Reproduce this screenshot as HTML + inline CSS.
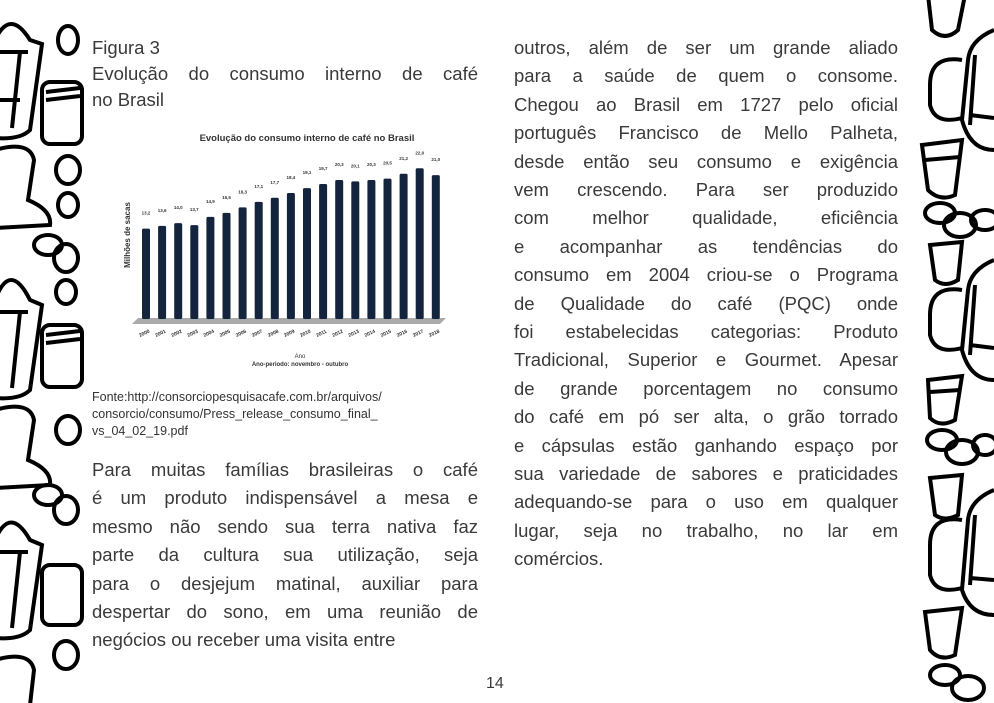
<!DOCTYPE html>
<html><head><meta charset="utf-8"><style>
html,body{margin:0;padding:0;background:#fff}
body{width:994px;height:703px;position:relative;overflow:hidden;font-family:"Liberation Sans",sans-serif;color:#3a3a3a}
.l{position:absolute;font-size:18.5px;white-space:nowrap;line-height:22px}
.j{text-align:justify;text-align-last:justify;white-space:normal}
.f{position:absolute;font-size:12.5px;line-height:16px;left:92px;color:#333}
</style></head><body>
<svg width="994" height="703" style="position:absolute;left:0;top:0" fill="none" stroke="#000" stroke-width="4">
<g>
<path d="M-5,40 Q10,8 30,40 L42,44 L30,130 Q20,140 -5,138"/>
<path d="M0,52 L28,52 M-5,100 L20,100 M20,52 L12,128"/>
<rect x="42" y="82" width="40" height="62" rx="8"/>
<path d="M46,92 L80,88 M46,100 L80,96"/>
<ellipse cx="68" cy="40" rx="10" ry="14"/>
<ellipse cx="68" cy="170" rx="12" ry="14"/>
<ellipse cx="68" cy="205" rx="10" ry="12"/>
<path d="M-5,150 Q30,140 34,160 L28,200 Q52,210 50,225 L-5,228"/>
<ellipse cx="48" cy="245" rx="14" ry="10"/>
<ellipse cx="66" cy="258" rx="12" ry="14"/>
<ellipse cx="66" cy="292" rx="10" ry="12"/>
<path d="M-5,300 Q10,260 30,300 L42,305 L30,390 Q20,400 -5,398"/>
<path d="M0,312 L28,312 M20,312 L12,388"/>
<rect x="42" y="325" width="40" height="62" rx="8"/>
<path d="M46,335 L80,331 M46,343 L80,339"/>
<ellipse cx="68" cy="430" rx="12" ry="14"/>
<path d="M-5,410 Q30,400 34,420 L28,460 Q52,470 50,485 L-5,488"/>
<ellipse cx="48" cy="495" rx="14" ry="10"/>
<ellipse cx="66" cy="510" rx="12" ry="14"/>
<path d="M-5,540 Q10,505 30,540 L42,545 L30,630 Q20,640 -5,638"/>
<path d="M0,552 L28,552 M20,552 L12,628"/>
<rect x="42" y="565" width="40" height="60" rx="8"/>
<ellipse cx="66" cy="655" rx="12" ry="14"/>
<path d="M-5,660 Q30,650 34,670 L30,705"/>
</g>
<g>
<path d="M928,-5 L932,30 Q945,42 958,30 L965,-5"/>
<path d="M994,30 Q970,40 968,60 L962,120 Q970,150 994,150"/>
<path d="M975,55 L970,125 M970,115 L994,118"/>
<path d="M962,60 Q930,55 930,85 L930,105 Q935,125 962,118"/>
<path d="M922,145 L962,140 L955,195 Q940,202 928,190 Z"/>
<path d="M925,160 L960,157"/>
<ellipse cx="940" cy="213" rx="15" ry="10"/>
<ellipse cx="960" cy="225" rx="16" ry="12"/>
<ellipse cx="985" cy="220" rx="14" ry="10"/>
<path d="M930,245 L962,242 L958,280 Q945,288 935,280 Z"/>
<path d="M994,260 Q970,270 968,290 L962,350 Q970,380 994,380"/>
<path d="M975,285 L970,355 M970,345 L994,348"/>
<path d="M962,290 Q930,285 930,315 L930,335 Q935,355 962,348"/>
<path d="M928,380 L962,376 L955,420 Q940,428 930,418 Z"/>
<path d="M930,392 L960,390"/>
<ellipse cx="942" cy="440" rx="15" ry="10"/>
<ellipse cx="962" cy="452" rx="16" ry="12"/>
<ellipse cx="985" cy="445" rx="12" ry="10"/>
<path d="M930,478 L962,475 L958,515 Q945,522 935,515 Z"/>
<path d="M994,490 Q970,500 968,520 L962,590 Q970,615 994,615"/>
<path d="M975,515 L970,585 M970,578 L994,580"/>
<path d="M962,520 Q930,515 930,545 L930,575 Q935,595 962,588"/>
<path d="M925,612 L962,608 L955,655 Q940,662 930,650 Z"/>
<ellipse cx="945" cy="675" rx="15" ry="10"/>
<ellipse cx="968" cy="688" rx="16" ry="12"/>
</g>
</svg>

<div class="l" style="left:92px;top:37px">Figura 3</div>
<div class="l j" style="left:92px;top:63px;width:386px">Evolução do consumo interno de café</div>
<div class="l" style="left:92px;top:89px">no Brasil</div>

<svg width="340" height="250" style="position:absolute;left:110px;top:120px" font-family="Liberation Sans,sans-serif">
<text x="197" y="21" font-size="9.5" font-weight="bold" text-anchor="middle" fill="#333">Evolução do consumo interno de café no Brasil</text>
<polygon points="28,198 336,198 330,204 22,204" fill="#aaa"/>
<text x="20" y="115" font-size="8" font-weight="bold" fill="#333" transform="rotate(-90 20 115)" text-anchor="middle">Milhões de sacas</text>
<g id="bars"></g>
<text x="190" y="238" font-size="6" text-anchor="middle" fill="#333">Ano</text>
<text x="190" y="246" font-size="6" font-weight="bold" text-anchor="middle" fill="#333">Ano-periodo: novembro - outubro</text>
</svg>
<script>
var v=[13.2,13.6,14.0,13.7,14.9,15.5,16.3,17.1,17.7,18.4,19.1,19.7,20.3,20.1,20.3,20.5,21.2,22.0,21.0];
var g=document.getElementById('bars'),h='';
v.forEach(function(x,i){var cx=36+i*16.1,hh=x*6.85,y=199-hh;
h+='<rect x="'+(cx-4)+'" y="'+y+'" width="8" height="'+hh+'" fill="#14243d" rx="1.5"/>';
h+='<text x="'+cx+'" y="'+(y-14)+'" font-size="4.5" font-weight="bold" text-anchor="middle" fill="#333">'+x.toFixed(1).replace('.',',')+'</text>';
h+='<text x="'+(cx-6)+'" y="'+217+'" font-size="5" font-weight="bold" fill="#333" transform="rotate(-25 '+(cx-6)+' 217)">'+(2000+i)+'</text>';});
g.innerHTML=h;
</script>

<div class="f" style="top:389px">Fonte:http://consorciopesquisacafe.com.br/arquivos/</div>
<div class="f" style="top:406px">consorcio/consumo/Press_release_consumo_final_</div>
<div class="f" style="top:423px">vs_04_02_19.pdf</div>

<div id="left"></div>
<div id="right"></div>
<div class="l" style="left:486px;top:673px;font-size:16px">14</div>
<script>
function put(id,x,y0,w,lines,last){var s='';lines.forEach(function(t,i){var j=(i<lines.length-1||!last)?' j':'';s+='<div class="l'+j+'" style="left:'+x+'px;top:'+(y0+i*28.4)+'px;width:'+w+'px">'+t+'</div>';});document.getElementById(id).innerHTML=s;}
put('left',92,459,386,["Para muitas famílias brasileiras o café","é um produto indispensável a mesa e","mesmo não sendo sua terra nativa faz","parte da cultura sua utilização, seja","para o desjejum matinal, auxiliar para","despertar do sono, em uma reunião de","negócios ou receber uma visita entre"],true);
put('right',514,37,384,["outros, além de ser um grande aliado","para a saúde de quem o consome.","Chegou ao Brasil em 1727 pelo oficial","português Francisco de Mello Palheta,","desde então seu consumo e exigência","vem crescendo. Para ser produzido","com melhor qualidade, eficiência","e acompanhar as tendências do","consumo em 2004 criou-se o Programa","de Qualidade do café (PQC) onde","foi estabelecidas categorias: Produto","Tradicional, Superior e Gourmet. Apesar","de grande porcentagem no consumo","do café em pó ser alta, o grão torrado","e cápsulas estão ganhando espaço por","sua variedade de sabores e praticidades","adequando-se para o uso em qualquer","lugar, seja no trabalho, no lar em","comércios."],true);
</script>
</body></html>
